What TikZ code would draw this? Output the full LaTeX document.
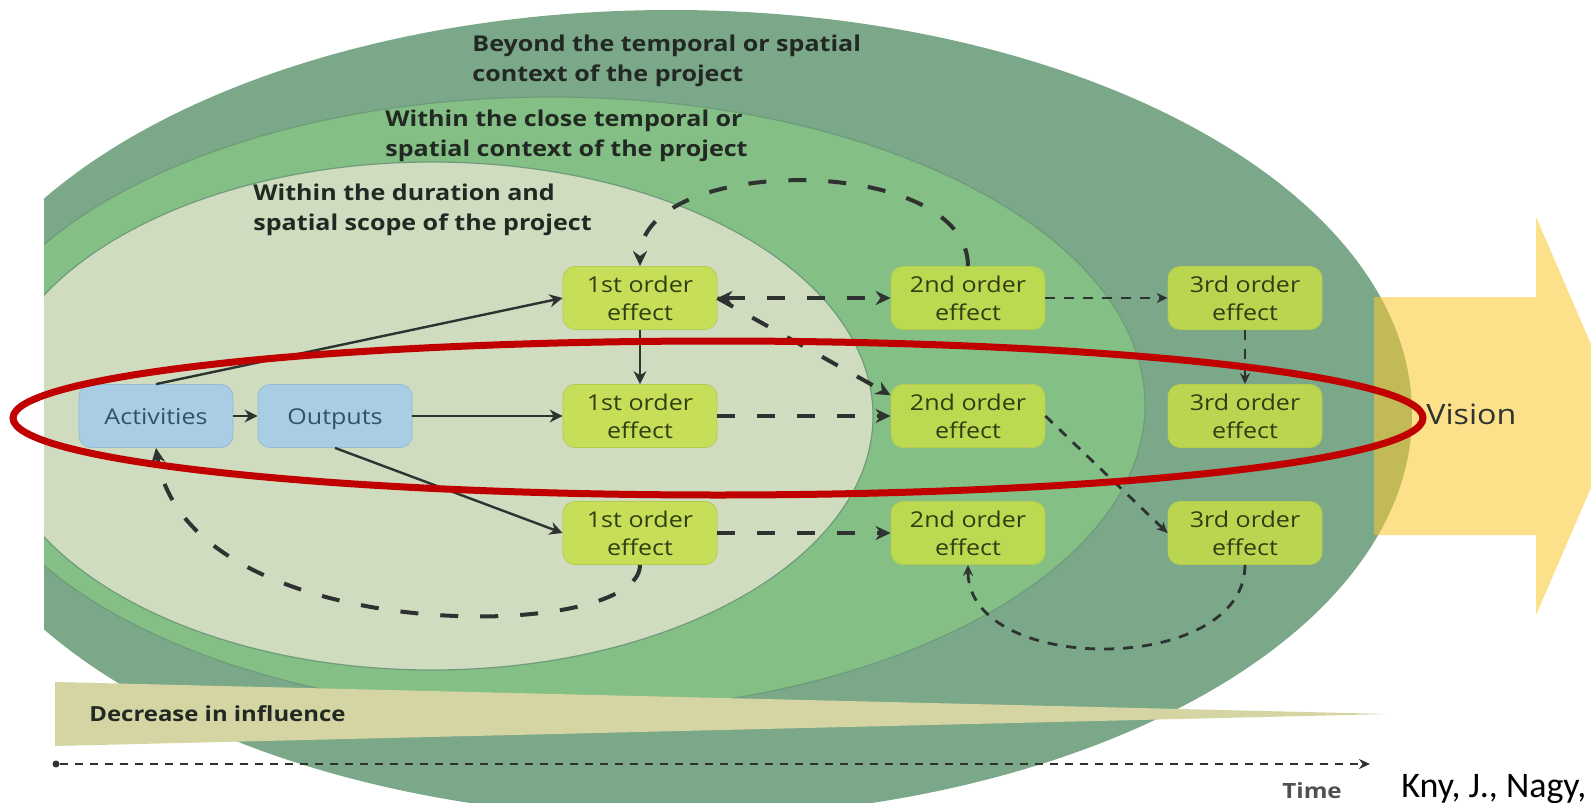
\documentclass[tikz,border=0pt]{standalone}
\usepackage{fontspec}
\setmainfont[FakeStretch=1.15]{Open Sans}
\newfontfamily\citefont{Carlito}
\usetikzlibrary{arrows.meta}

\definecolor{outergreen}{HTML}{7AA889}
\definecolor{midgreen}{HTML}{84BF86}
\definecolor{innergreen}{HTML}{D0DCC0}
\definecolor{ringedge}{HTML}{6E9C7A}
\definecolor{efffill}{HTML}{C6DF48}
\definecolor{effedge}{HTML}{B3CC4E}
\definecolor{effink}{HTML}{333D12}
\definecolor{actfill}{HTML}{A8CDE5}
\definecolor{actedge}{HTML}{96BCD3}
\definecolor{actink}{HTML}{36506A}
\definecolor{lineink}{HTML}{2E3230}
\definecolor{headink}{HTML}{222822}
\definecolor{wedgefill}{HTML}{D4D5A2}
\definecolor{visionfill}{HTML}{FAC832}
\definecolor{ringred}{HTML}{C00000}

\tikzset{
  heavy/.tip={Stealth[length=7.5pt,width=7pt]},
  light/.tip={Stealth[length=5.5pt,width=5pt]},
  thin/.tip={Stealth[length=6.5pt,width=6.5pt]}
}

\begin{document}
\begin{tikzpicture}[x=0.5pt,y=0.5pt,yscale=-1,
  effbox/.style={draw=effedge,fill=efffill,fill opacity=0.85,text opacity=1,rounded corners=6pt,
    minimum width=77pt,minimum height=31.5pt,inner sep=0pt,align=center,
    text=effink,font=\fontsize{10.9}{14}\selectfont},
  actbox/.style={effbox,draw=actedge,fill=actfill,fill opacity=1,text=actink,
    text height=8.3pt,text depth=0pt},
  heading/.style={anchor=west,align=left,inner sep=0pt,text=headink,
    font=\bfseries\fontsize{10.9}{15}\selectfont},
  solidarr/.style={draw=lineink,line width=1.2pt,-thin},
  heavydash/.style={draw=lineink,line width=2pt,dash pattern=on 9pt off 11pt},
  lightdash/.style={draw=lineink,line width=1.4pt,dash pattern=on 5pt off 4.5pt}]
\clip (0,0) rectangle (1591,803);

% rings
\begin{scope}
\clip (44,0) rectangle (1591,803);
\fill[outergreen] (671,414) ellipse [x radius=741, y radius=404];
\filldraw[fill=midgreen,draw=ringedge,line width=0.6pt] (551,405) ellipse [x radius=594, y radius=308];
\filldraw[fill=innergreen,draw=ringedge,line width=0.6pt] (432,416) ellipse [x radius=441, y radius=254];
\end{scope}

% vision arrow and influence wedge
\fill[visionfill,fill opacity=0.57] (1374,297) -- (1536,297) -- (1536,217) -- (1622,416) -- (1536,615) -- (1536,535) -- (1374,535) -- cycle;
\fill[wedgefill] (55,682) -- (1388,714) -- (55,746) -- cycle;

% boxes
\node[actbox] (act) at (156,416) {Activities};
\node[actbox] (outp) at (335,416) {Outputs};
\node[effbox] (e1t) at (640,298) {1st order\\effect};
\node[effbox] (e1m) at (640,416) {1st order\\effect};
\node[effbox] (e1b) at (640,533) {1st order\\effect};
\node[effbox] (e2t) at (968,298) {2nd order\\effect};
\node[effbox] (e2m) at (968,416) {2nd order\\effect};
\node[effbox] (e2b) at (968,533) {2nd order\\effect};
\node[effbox] (e3t) at (1245,298) {3rd order\\effect};
\node[effbox] (e3m) at (1245,416) {3rd order\\effect};
\node[effbox] (e3b) at (1245,533) {3rd order\\effect};

% connectors
\draw[solidarr] (act) -- (outp);
\draw[solidarr] (act.north) -- (e1t.west);
\draw[solidarr] (outp) -- (e1m);
\draw[solidarr] (outp.south) -- (e1b.west);
\draw[solidarr] (e1t) -- (e1m);
\draw[heavydash,heavy-heavy] (e1t) -- (e2t);
\draw[heavydash,-heavy] (e1t.east) -- (e2m.165);
\draw[heavydash,-heavy] (e1m) -- (e2m);
\draw[heavydash,-heavy] (e1b) -- (e2b);
\draw[lightdash,-light] (e2t) -- (e3t);
\draw[lightdash,-light] (e3t) -- (e3m);
\draw[lightdash,-light] (e2m.east) -- (e3b.west);
\draw[heavydash,-heavy] (e2t.north) .. controls +(0,-113) and +(0,-113) .. (e1t.north);
\draw[heavydash,-heavy] (e1b.south) .. controls +(0,80) and +(30,200) .. (act.south);
\draw[lightdash,-light] (e3b.south) .. controls +(0,111) and +(0,111) .. (e2b.south);

% highlight
\draw[ringred,line width=3.5pt] (718,418) ellipse [x radius=705, y radius=77];

% texts
\node[heading] (hbeyond) at (472,61) {Beyond the temporal or spatial\\context of the project};
\node[heading] (hclose) at (385,136) {Within the close temporal or\\spatial context of the project};
\node[heading] (hscope) at (253,210) {Within the duration and\\spatial scope of the project};
\node[heading,font=\bfseries\fontsize{10.4}{12}\selectfont] (decr) at (89,714) {Decrease in influence};
\node[anchor=west,inner sep=0pt,text=lineink,font=\fontsize{14}{16}\selectfont] (vis) at (1426,414) {Vision};

% time axis
\node[circle,fill=lineink,inner sep=0pt,minimum size=3.5pt] (tdot) at (56,764) {};
\coordinate (tend) at (1370,764);
\draw[lineink,line width=1pt,dash pattern=on 4pt off 3.5pt,-light] (tdot) -- (tend);
\node[anchor=base west,inner sep=0pt,text=lineink!85,font=\bfseries\fontsize{10.5}{12}\selectfont] (timelbl) at (1282,798) {Time};
\node[anchor=base west,inner sep=0pt,font=\citefont\fontsize{18}{20}\selectfont] (cite) at (1401,797) {Kny, J., Nagy,};
\end{tikzpicture}
\end{document}
